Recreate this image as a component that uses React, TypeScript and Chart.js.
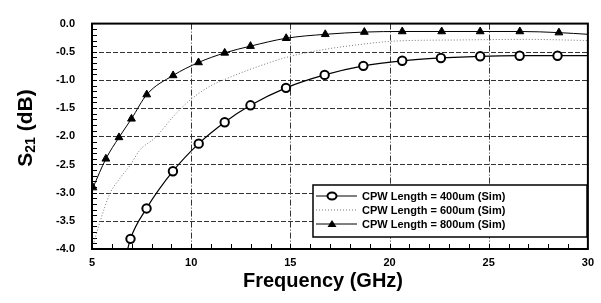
import { useEffect, useRef } from "react";
import { Chart, registerables } from "chart.js";
Chart.register(...registerables);

const legendLabels = [
  "CPW Length = 400um (Sim)",
  "CPW Length = 600um (Sim)",
  "CPW Length = 800um (Sim)",
];

const freq400 = [6.6, 6.94, 7.75, 9.08, 10.38, 11.69, 12.99, 14.78, 16.73, 18.68, 20.64, 22.59, 24.57, 26.56, 28.47, 30];
const s400 = [-4.3, -3.82, -3.28, -2.62, -2.13, -1.75, -1.45, -1.14, -0.91, -0.75, -0.66, -0.61, -0.58, -0.57, -0.57, -0.57];
const marker400 = [false, true, true, true, true, true, true, true, true, true, true, true, true, true, true, false];

const freq600 = [5.1, 5.4, 5.9, 6.4, 6.95, 7.4, 8.2, 9.1, 9.9, 10.9, 11.7, 13.3, 15.0, 16.7, 18.3, 20.3, 23.6, 26.9, 30];
const s600 = [-3.88, -3.52, -3.02, -2.75, -2.5, -2.25, -2.02, -1.65, -1.37, -1.12, -0.99, -0.77, -0.58, -0.46, -0.38, -0.31, -0.29, -0.28, -0.3];

const freq800 = [5.05, 5.7, 6.36, 6.99, 7.76, 9.09, 10.37, 11.69, 12.99, 14.79, 16.76, 18.73, 20.64, 22.63, 24.57, 26.57, 28.54, 30];
const s800 = [-2.91, -2.4, -2.02, -1.69, -1.26, -0.92, -0.69, -0.52, -0.4, -0.26, -0.19, -0.15, -0.14, -0.14, -0.14, -0.14, -0.16, -0.19];
const marker800 = [true, true, true, true, true, true, true, true, true, true, true, true, true, true, true, true, true, false];

const yMajor = [-3.5, -3.0, -2.5, -2.0, -1.5, -1.0, -0.5];
const xMajor = [10, 15, 20, 25];

const FONT = "'Liberation Sans', Arial, sans-serif";

const framePlugin = {
  id: "frame",
  beforeDatasetsDraw(chart: any) {
    const { ctx, chartArea: a, scales } = chart;
    const xs = scales.x, ys = scales.y;
    ctx.save();
    ctx.strokeStyle = "#333";
    ctx.lineWidth = 1;
    ctx.setLineDash([5, 2]);
    for (const v of yMajor) {
      const y = Math.round(ys.getPixelForValue(v)) + 0.5;
      ctx.beginPath(); ctx.moveTo(a.left, y); ctx.lineTo(a.right, y); ctx.stroke();
    }
    ctx.setLineDash([6, 2, 1, 2]);
    for (const v of xMajor) {
      const x = Math.round(xs.getPixelForValue(v)) + 0.5;
      ctx.beginPath(); ctx.moveTo(x, a.top); ctx.lineTo(x, a.bottom); ctx.stroke();
    }
    ctx.setLineDash([]);
    ctx.strokeStyle = "#000";
    for (let i = 1; i < 40; i++) {
      const y = Math.round(ys.getPixelForValue(-i / 10)) + 0.5;
      ctx.beginPath(); ctx.moveTo(a.left, y); ctx.lineTo(a.left + 5, y); ctx.stroke();
    }
    for (let f = 6; f < 30; f++) {
      const x = Math.round(xs.getPixelForValue(f)) + 0.5;
      ctx.beginPath(); ctx.moveTo(x, a.bottom); ctx.lineTo(x, a.bottom - 5); ctx.stroke();
    }
    ctx.restore();
  },
  afterDatasetsDraw(chart: any) {
    const { ctx, chartArea: a } = chart;
    ctx.save();
    ctx.strokeStyle = "#000";
    ctx.lineWidth = 2;
    ctx.strokeRect(a.left, a.top, a.right - a.left, a.bottom - a.top);
    ctx.restore();
  },
};

const decorPlugin = {
  id: "decor",
  afterDraw(chart: any) {
    const { ctx } = chart;
    ctx.save();
    // legend box
    const lx = 313, ly = 185, lw = 274, lh = 52;
    ctx.fillStyle = "#fff";
    ctx.fillRect(lx, ly, lw, lh);
    ctx.strokeStyle = "#000";
    ctx.lineWidth = 1.5;
    ctx.strokeRect(lx, ly, lw, lh);
    const rows = [ly + 11, ly + 25, ly + 39];
    ctx.font = `bold 11px ${FONT}`;
    ctx.fillStyle = "#000";
    ctx.textBaseline = "middle";
    ctx.textAlign = "left";
    for (let i = 0; i < 3; i++) {
      const y = rows[i];
      ctx.beginPath();
      if (i === 1) {
        ctx.strokeStyle = "#777";
        ctx.setLineDash([1, 2]);
        ctx.lineWidth = 1;
      } else {
        ctx.strokeStyle = "#000";
        ctx.setLineDash([]);
        ctx.lineWidth = 1;
      }
      ctx.moveTo(lx + 3, y); ctx.lineTo(lx + 44, y); ctx.stroke();
      ctx.setLineDash([]);
      if (i === 0) {
        ctx.beginPath();
        ctx.ellipse(lx + 19, y, 4.5, 3.5, 0, 0, Math.PI * 2);
        ctx.fillStyle = "#fff"; ctx.fill();
        ctx.lineWidth = 2; ctx.strokeStyle = "#000"; ctx.stroke();
      } else if (i === 2) {
        ctx.beginPath();
        ctx.moveTo(lx + 19, y - 4); ctx.lineTo(lx + 23.5, y + 3); ctx.lineTo(lx + 14.5, y + 3); ctx.closePath();
        ctx.fillStyle = "#000"; ctx.fill();
      }
      ctx.fillStyle = "#000";
      ctx.fillText(legendLabels[i], lx + 49, y + 0.5);
    }
    // x title
    ctx.font = `bold 20px ${FONT}`;
    ctx.textAlign = "center";
    ctx.textBaseline = "middle";
    ctx.fillText("Frequency (GHz)", 323, 281);
    // y title with subscript
    ctx.translate(25, 128);
    ctx.rotate(-Math.PI / 2);
    const big = `bold 21px ${FONT}`, small = `bold 14px ${FONT}`;
    ctx.font = big; const wS = ctx.measureText("S").width; const wR = ctx.measureText(" (dB)").width;
    ctx.font = small; const w21 = ctx.measureText("21").width;
    let x = -(wS + w21 + wR) / 2;
    ctx.textAlign = "left";
    ctx.textBaseline = "alphabetic";
    ctx.font = big; ctx.fillText("S", x, 7); x += wS;
    ctx.font = small; ctx.fillText("21", x, 10); x += w21;
    ctx.font = big; ctx.fillText(" (dB)", x, 7);
    ctx.restore();
  },
};

export default function App() {
  const ref = useRef<HTMLCanvasElement>(null);
  useEffect(() => {
    document.body.style.margin = "0";
    const canvas = ref.current!;
    const tickFont = { family: FONT, weight: "bold" as const, size: 11 };
    const chart = new Chart(canvas, {
      type: "line",
      data: {
        datasets: [
          {
            label: legendLabels[0],
            data: freq400.map((x, i) => ({ x, y: s400[i] })),
            borderColor: "#000",
            borderWidth: 1.2,
            pointStyle: "circle",
            pointRadius: marker400.map((m) => (m ? 4.2 : 0)),
            pointBackgroundColor: "#fff",
            pointBorderColor: "#000",
            pointBorderWidth: 2,
            cubicInterpolationMode: "monotone",
          },
          {
            label: legendLabels[1],
            data: freq600.map((x, i) => ({ x, y: s600[i] })),
            borderColor: "#777",
            borderWidth: 1,
            borderDash: [1, 2],
            pointRadius: 0,
            cubicInterpolationMode: "monotone",
          },
          {
            label: legendLabels[2],
            data: freq800.map((x, i) => ({ x, y: s800[i] })),
            borderColor: "#000",
            borderWidth: 1,
            pointStyle: "triangle",
            pointRadius: marker800.map((m) => (m ? 4.5 : 0)),
            pointBackgroundColor: "#000",
            pointBorderColor: "#000",
            pointBorderWidth: 1,
            cubicInterpolationMode: "monotone",
          },
        ],
      },
      options: {
        responsive: false,
        animation: false,
        layout: { padding: { top: 7, right: 6, left: 0, bottom: 0 } },
        plugins: { legend: { display: false }, tooltip: { enabled: false } },
        scales: {
          x: {
            type: "linear",
            min: 5,
            max: 30,
            ticks: { stepSize: 5, padding: 7, font: tickFont, color: "#000", maxRotation: 0 },
            grid: { display: false, drawTicks: false },
            border: { display: false },
            afterFit: (s: any) => { s.height = 54; },
          },
          y: {
            type: "linear",
            min: -4,
            max: 0,
            ticks: {
              stepSize: 0.5,
              padding: 17,
              font: tickFont,
              color: "#000",
              callback: (v: any) => Number(v).toFixed(1),
            },
            grid: { display: false, drawTicks: false },
            border: { display: false },
            afterFit: (s: any) => { s.width = 92; },
          },
        },
      } as any,
      plugins: [framePlugin, decorPlugin],
    });
    return () => chart.destroy();
  }, []);
  return (
    <div style={{ position: "fixed", left: 0, top: 0, width: 601, height: 303, background: "#fff" }}>
      <canvas ref={ref} width={601} height={303} style={{ display: "block" }} />
    </div>
  );
}
